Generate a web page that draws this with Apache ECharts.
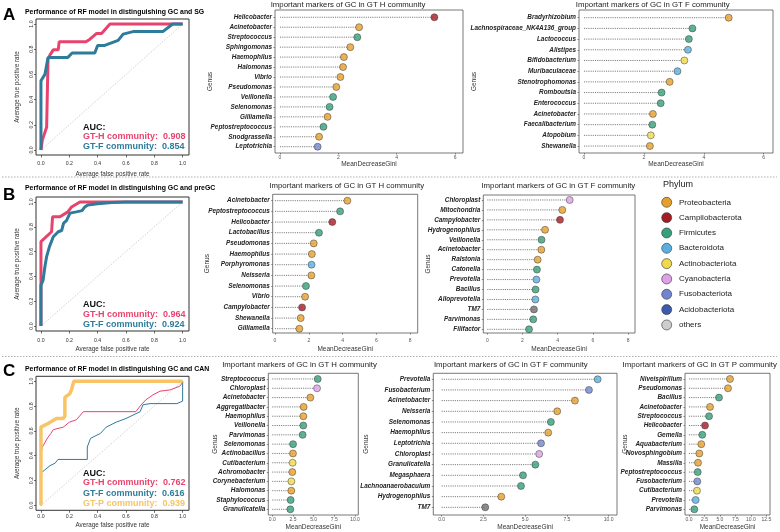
<!DOCTYPE html>
<html><head><meta charset="utf-8">
<script src="https://cdn.jsdelivr.net/npm/echarts@6/dist/echarts.min.js"></script>
<style>html,body{margin:0;padding:0;background:#fff}#c{width:780px;height:532px}</style>
</head><body><div id="c"></div>
<script>
// ================= DATA =================
const phylumNames  = ['Proteobacteria','Campilobacterota','Firmicutes','Bacteroidota','Actinobacteriota','Cyanobacteria','Fusobacteriota','Acidobacteriota','others'];
const phylumColors = ['#E69F2C','#A61C24','#35A07B','#5BAEE0','#F0DA4C','#DDA2E6','#7286D0','#3D59B0','#CDCDCD'];
const extraPhylum = 'Patescibacteria', extraColor = '#6E6E6E';

const rocTicks = [0, 0.2, 0.4, 0.6, 0.8, 1.0];
const diagonal = [[0, 0], [1, 1]];
const communities = ['GT-H community:', 'GT-F community:', 'GT-P community:'];

// ROC curves [FPR, TPR]
const rocA_H = [[0,0],[0.01,0.08],[0.04,0.18],[0.05,0.72],[0.064,0.755],[0.087,0.795],[0.122,0.795],[0.129,0.86],[0.318,0.86],[0.346,0.88],[0.393,0.925],[0.428,0.925],[0.487,1],[1,1]];
const rocA_F = [[0,0],[0,0.55],[0.028,0.6],[0.05,0.735],[0.19,0.735],[0.22,0.77],[0.38,0.77],[0.40,0.83],[0.45,0.83],[0.545,0.87],[0.58,0.92],[0.65,0.94],[0.86,0.94],[0.93,1],[1,1]];
const aucA = [0.908, 0.854];
const rocB_H = [[0,0],[0,0.68],[0.075,0.76],[0.082,0.88],[0.134,0.88],[0.19,0.92],[0.216,0.96],[0.275,1],[1,1]];
const rocB_F = [[0,0],[0,0.33],[0.015,0.37],[0.028,0.48],[0.04,0.56],[0.06,0.64],[0.087,0.72],[0.122,0.76],[0.146,0.77],[0.16,0.83],[0.18,0.85],[0.205,0.91],[0.25,0.92],[0.29,0.93],[0.31,0.96],[0.33,0.975],[0.4,0.985],[0.5,0.995],[0.6,1],[1,1]];
const aucB = [0.964, 0.924];
const rocC_H = [[0,0],[0,0.42],[0.01,0.47],[0.05,0.55],[0.07,0.58],[0.087,0.61],[0.157,0.63],[0.2,0.67],[0.25,0.69],[0.3,0.755],[0.67,0.755],[0.7,0.8],[0.74,0.85],[0.79,0.89],[0.84,0.92],[0.91,0.93],[0.98,0.96],[1,0.99],[1,1]];
const rocC_F = [[0,0],[0,0.26],[0.064,0.32],[0.1,0.34],[0.12,0.37],[0.327,0.37],[0.327,0.47],[0.35,0.54],[0.42,0.58],[0.46,0.63],[0.53,0.67],[0.6,0.7],[0.7,0.755],[0.72,0.81],[0.77,0.82],[0.96,0.82],[1,0.84],[1,1]];
const rocC_P = [[0,0],[0,0.63],[0.05,0.66],[0.11,0.70],[0.157,0.70],[0.169,0.72],[0.169,0.87],[0.204,0.90],[0.215,0.93],[0.232,1],[1,1]];
const aucC = [0.762, 0.616, 0.939];

// Marker genera (MeanDecreaseGini)
const aH_genus = ['Helicobacter','Acinetobacter','Streptococcus','Sphingomonas','Haemophilus','Halomonas','Vibrio','Pseudomonas','Veillonella','Selenomonas','Gilliamella','Peptostreptococcus','Snodgrassella','Leptotrichia'];
const aH_gini  = [5.29,2.71,2.65,2.41,2.19,2.16,2.07,1.93,1.82,1.70,1.63,1.49,1.34,1.29];
const aH_phyl  = ['Campilobacterota','Proteobacteria','Firmicutes','Proteobacteria','Proteobacteria','Proteobacteria','Proteobacteria','Proteobacteria','Firmicutes','Firmicutes','Proteobacteria','Firmicutes','Proteobacteria','Fusobacteriota'];

const aF_genus = ['Bradyrhizobium','Lachnospiraceae_NK4A136_group','Lactococcus','Alistipes','Bifidobacterium','Muribaculaceae','Stenotrophomonas','Romboutsia','Enterococcus','Acinetobacter','Faecalibacterium','Atopobium','Shewanella'];
const aF_gini  = [4.83,3.62,3.50,3.47,3.35,3.12,2.86,2.59,2.56,2.30,2.28,2.23,2.20];
const aF_phyl  = ['Proteobacteria','Firmicutes','Firmicutes','Bacteroidota','Actinobacteriota','Bacteroidota','Proteobacteria','Firmicutes','Firmicutes','Proteobacteria','Firmicutes','Actinobacteriota','Proteobacteria'];

const bH_genus = ['Acinetobacter','Peptostreptococcus','Helicobacter','Lactobacillus','Pseudomonas','Haemophilus','Porphyromonas','Neisseria','Selenomonas','Vibrio','Campylobacter','Shewanella','Gilliamella'];
const bH_gini  = [4.28,3.85,3.39,2.60,2.29,2.18,2.16,2.15,1.83,1.78,1.60,1.52,1.44];
const bH_phyl  = ['Proteobacteria','Firmicutes','Campilobacterota','Firmicutes','Proteobacteria','Proteobacteria','Bacteroidota','Proteobacteria','Firmicutes','Proteobacteria','Campilobacterota','Proteobacteria','Proteobacteria'];

const bF_genus = ['Chloroplast','Mitochondria','Campylobacter','Hydrogenophilus','Veillonella','Acinetobacter','Ralstonia','Catonella','Prevotella','Bacillus','Alloprevotella','TM7','Parvimonas','Filifactor'];
const bF_gini  = [4.68,4.26,4.13,3.28,3.08,3.07,2.86,2.82,2.79,2.74,2.73,2.65,2.61,2.37];
const bF_phyl  = ['Cyanobacteria','Proteobacteria','Campilobacterota','Proteobacteria','Firmicutes','Proteobacteria','Proteobacteria','Firmicutes','Bacteroidota','Firmicutes','Bacteroidota','Patescibacteria','Firmicutes','Firmicutes'];

const cH_genus = ['Streptococcus','Chloroplast','Acinetobacter','Aggregatibacter','Haemophilus','Veillonella','Parvimonas','Selenomonas','Actinobacillus','Cutibacterium','Achromobacter','Corynebacterium','Halomonas','Staphylococcus','Granulicatella'];
const cH_gini  = [5.49,5.41,4.60,3.79,3.76,3.75,3.67,2.51,2.50,2.46,2.42,2.31,2.30,2.22,2.18];
const cH_phyl  = ['Firmicutes','Cyanobacteria','Proteobacteria','Proteobacteria','Proteobacteria','Firmicutes','Firmicutes','Firmicutes','Proteobacteria','Actinobacteriota','Proteobacteria','Actinobacteriota','Proteobacteria','Firmicutes','Firmicutes'];

const cF_genus = ['Prevotella','Fusobacterium','Acinetobacter','Neisseria','Selenomonas','Haemophilus','Leptotrichia','Chloroplast','Granulicatella','Megasphaera','Lachnoanaerobaculum','Hydrogenophilus','TM7'];
const cF_gini  = [9.34,8.82,7.98,6.92,6.54,6.38,5.95,5.84,5.61,4.87,4.75,3.57,2.61];
const cF_phyl  = ['Bacteroidota','Fusobacteriota','Proteobacteria','Proteobacteria','Firmicutes','Proteobacteria','Fusobacteriota','Cyanobacteria','Firmicutes','Firmicutes','Firmicutes','Proteobacteria','Patescibacteria'];

const cP_genus = ['Niveispirillum','Pseudomonas','Bacillus','Acinetobacter','Streptococcus','Helicobacter','Gemella','Aquabacterium','Novosphingobium','Massilia','Peptostreptococcus','Fusobacterium','Cutibacterium','Prevotella','Parvimonas'];
const cP_gini  = [6.63,6.31,4.85,3.40,3.24,2.59,2.15,1.99,1.67,1.46,1.41,1.34,1.29,1.08,0.86];
const cP_phyl  = ['Proteobacteria','Proteobacteria','Firmicutes','Proteobacteria','Firmicutes','Campilobacterota','Firmicutes','Proteobacteria','Proteobacteria','Proteobacteria','Firmicutes','Fusobacteriota','Actinobacteriota','Bacteroidota','Firmicutes'];

const ticksAB6 = [0, 2, 4, 6];
const ticksB8 = [0, 2, 4, 6, 8];
const ticksC10 = [0, 2.5, 5, 7.5, 10];
const ticksC12 = [0, 2.5, 5, 7.5, 10, 12.5];

// ================= BUILD =================
const FF = '"Liberation Sans", Arial, Helvetica, sans-serif';
const colorOf = p => p === extraPhylum ? extraColor : phylumColors[phylumNames.indexOf(p)];
const grids = [], xAxes = [], yAxes = [], series = [], graphics = [];

function txt(x, y, text, o) {
  const st = Object.assign({text: text, fill: '#111', fontSize: 8, fontFamily: FF,
    textAlign: 'left', textVerticalAlign: 'middle'}, o || {});
  st.align = st.textAlign; st.verticalAlign = st.textVerticalAlign;
  return {type: 'text', x: x, y: y, silent: true, style: st};
}

const rocColors = ['#E8436E', '#2E7B9C', '#F8C466'];
const noLine = {show: false, onZero: false};

function addRoc(L, curves, widths, aucs) {
  const gi = grids.length;
  grids.push({left: L.l, top: L.t, width: L.r - L.l, height: L.b - L.t, show: true,
    borderColor: '#333', borderWidth: 1, backgroundColor: 'rgba(0,0,0,0)', outerBoundsMode: 'none', containLabel: false});
  xAxes.push({gridIndex: gi, type: 'value', min: -0.035, max: 1.045,
    axisLine: noLine, splitLine: {show: false}, nameMoveOverlap: false,
    axisTick: {show: true, length: 2.5, customValues: rocTicks, lineStyle: {color: '#333', width: 0.7}},
    axisLabel: {customValues: rocTicks, formatter: v => v.toFixed(1), fontSize: 5.2, color: '#333', margin: L.xm, fontFamily: FF},
    name: 'Average false positive rate', nameLocation: 'middle', nameGap: L.xng,
    nameTextStyle: {fontSize: 6.3, color: '#333', fontFamily: FF}});
  yAxes.push({gridIndex: gi, type: 'value', min: -0.04, max: 1.04,
    axisLine: noLine, splitLine: {show: false}, nameMoveOverlap: false,
    axisTick: {show: true, length: 2, customValues: rocTicks, lineStyle: {color: '#333', width: 0.7}},
    axisLabel: {customValues: rocTicks, formatter: v => v.toFixed(1), fontSize: 5.2, color: '#333', margin: 2.4, rotate: 90, fontFamily: FF},
    name: 'Average true positive rate', nameLocation: 'middle', nameGap: 16,
    nameTextStyle: {fontSize: 6.3, color: '#333', fontFamily: FF}});
  series.push({type: 'line', xAxisIndex: gi, yAxisIndex: gi, data: diagonal, symbol: 'none', silent: true,
    lineStyle: {color: '#bdbdbd', width: 0.7, type: [1.5, 1.5]}, z: 1});
  curves.forEach((c, k) => series.push({type: 'line', xAxisIndex: gi, yAxisIndex: gi, data: c, symbol: 'none', silent: true,
    lineStyle: {color: rocColors[k], width: widths[k]}, z: 2 + k}));
  graphics.push(txt(L.ax, L.ay[0], 'AUC:', {fontSize: 9, fontWeight: 'bold', fill: '#111'}));
  aucs.forEach((a, k) => graphics.push(txt(L.ax, L.ay[k + 1], communities[k] + '  ' + a.toFixed(3),
    {fontSize: 9, fontWeight: 'bold', fill: rocColors[k]})));
}

function addDot(L, names, vals, phyl, ticks, fmt, title) {
  const gi = grids.length;
  const idx = names.map((_, i) => i);
  grids.push({left: L.l, top: L.t, width: L.r - L.l, height: L.b - L.t, show: true,
    borderColor: '#555', borderWidth: 0.8, backgroundColor: 'rgba(0,0,0,0)', outerBoundsMode: 'none', containLabel: false});
  xAxes.push({gridIndex: gi, type: 'value', min: L.xmin, max: L.xmax,
    axisLine: noLine, splitLine: {show: false}, nameMoveOverlap: false,
    axisTick: {show: true, length: 1.5, customValues: ticks, lineStyle: {color: '#444', width: 0.6}},
    axisLabel: {customValues: ticks, formatter: fmt, fontSize: 5, color: '#555', margin: L.xm, fontFamily: FF},
    name: 'MeanDecreaseGini', nameLocation: 'middle', nameGap: L.xng,
    nameTextStyle: {fontSize: 6.5, color: '#333', fontFamily: FF}});
  yAxes.push({gridIndex: gi, type: 'value', inverse: true, min: L.ymin, max: L.ymax,
    axisLine: noLine, splitLine: {show: false}, nameMoveOverlap: false,
    axisTick: {show: true, length: 1.5, customValues: idx, lineStyle: {color: '#444', width: 0.6}},
    axisLabel: {customValues: idx, formatter: v => names[Math.round(v)], fontSize: 6.4, fontWeight: 'bold',
      fontStyle: 'italic', color: '#222', margin: 3, fontFamily: FF},
    name: 'Genus', nameLocation: 'middle', nameGap: L.yng,
    nameTextStyle: {fontSize: 6.5, color: '#333', fontFamily: FF}});
  series.push({type: 'custom', coordinateSystem: 'cartesian2d', xAxisIndex: gi, yAxisIndex: gi, silent: true, z: 2,
    data: vals.map((v, i) => [v, i]),
    renderItem: (params, api) => {
      const y = api.value(1);
      const p0 = api.coord([0, y]), p1 = api.coord([api.value(0), y]);
      return {type: 'line', shape: {x1: p0[0], y1: p0[1], x2: p1[0], y2: p1[1]},
        style: {stroke: '#555', lineWidth: 0.8, lineDash: [1.1, 1.1], fill: null}};
    }});
  series.push({type: 'scatter', xAxisIndex: gi, yAxisIndex: gi, symbolSize: 7, silent: true, z: 3,
    itemStyle: {borderColor: '#333', borderWidth: 0.6},
    data: vals.map((v, i) => ({value: [v, i], itemStyle: {color: colorOf(phyl[i])}}))});
  graphics.push(txt(L.tx, L.ty, title, {fontSize: 7.8, fill: '#222', textAlign: 'center'}));
}

const int0 = v => String(v);
const fix1 = v => v.toFixed(1);
const titleH = 'Important markers of GC in GT H community';
const titleF = 'Important markers of GC in GT F community';
const titleP = 'Important markers of GC in GT P community';

// Panel A
addRoc({l: 36, r: 189, t: 19, b: 155, xm: 6.2, xng: 15.8, ax: 83, ay: [127.7, 137, 146.7]}, [rocA_H, rocA_F], [3, 3], aucA);
addDot({l: 275, r: 463, t: 10, b: 153, xmin: -0.17, xmax: 6.27, ymin: -0.73, ymax: 13.63, xm: 2.3, xng: 7.8, yng: 61.5, tx: 348, ty: 4.5},
  aH_genus, aH_gini, aH_phyl, ticksAB6, int0, titleH);
addDot({l: 579, r: 773, t: 10, b: 153, xmin: -0.167, xmax: 6.31, ymin: -0.72, ymax: 12.65, xm: 2.3, xng: 7.8, yng: 101, tx: 652.7, ty: 4.5},
  aF_genus, aF_gini, aF_phyl, ticksAB6, int0, titleF);

// Panel B
addRoc({l: 36, r: 189, t: 197, b: 331, xm: 7.5, xng: 15.3, ax: 83, ay: [305, 315, 324.3]}, [rocB_H, rocB_F], [3, 3], aucB);
addDot({l: 272.7, r: 417.7, t: 194.3, b: 333, xmin: -0.136, xmax: 8.44, ymin: -0.6, ymax: 12.4, xm: 5, xng: 12.5, yng: 61.5, tx: 346.7, ty: 186},
  bH_genus, bH_gini, bH_phyl, ticksB8, int0, titleH);
addDot({l: 483.3, r: 635, t: 195, b: 333, xmin: -0.227, xmax: 8.39, ymin: -0.5, ymax: 13.37, xm: 5, xng: 12.5, yng: 51.7, tx: 558.3, ty: 186},
  bF_genus, bF_gini, bF_phyl, ticksB8, int0, titleF);

// Panel C
addRoc({l: 36, r: 189, t: 376.3, b: 510.3, xm: 3.5, xng: 12.3, ax: 83, ay: [473.3, 482.8, 493.2, 503.2]}, [rocC_H, rocC_F, rocC_P], [1, 1, 3.5], aucC);
addDot({l: 268.3, r: 358.3, t: 373.3, b: 515, xmin: -0.48, xmax: 10.4, ymin: -0.61, ymax: 14.61, xm: 2.3, xng: 9, yng: 50, tx: 299.5, ty: 365},
  cH_genus, cH_gini, cH_phyl, ticksC10, fix1, titleH);
addDot({l: 433.3, r: 617, t: 373.3, b: 515, xmin: -0.5, xmax: 10.5, ymin: -0.56, ymax: 12.72, xm: 2.3, xng: 9, yng: 63.4, tx: 510.8, ty: 365},
  cF_genus, cF_gini, cF_phyl, ticksC10, fix1, titleF);
addDot({l: 685, r: 770, t: 373.3, b: 515, xmin: -0.647, xmax: 13.1, ymin: -0.61, ymax: 14.61, xm: 2.3, xng: 9, yng: 56, tx: 699.7, ty: 365},
  cP_genus, cP_gini, cP_phyl, ticksC12, fix1, titleP);

// Panel letters and titles
graphics.push(txt(3, 15, 'A', {fontSize: 17, fontWeight: 'bold', fill: '#000'}));
graphics.push(txt(3, 195, 'B', {fontSize: 17, fontWeight: 'bold', fill: '#000'}));
graphics.push(txt(3, 371, 'C', {fontSize: 17, fontWeight: 'bold', fill: '#000'}));
graphics.push(txt(25, 12, 'Performance of RF model in distinguishing GC and SG', {fontSize: 6.9, fontWeight: 'bold', fill: '#000'}));
graphics.push(txt(25, 188.3, 'Performance of RF model in distinguishing GC and preGC', {fontSize: 6.9, fontWeight: 'bold', fill: '#000'}));
graphics.push(txt(25, 369.3, 'Performance of RF model in distinguishing GC and CAN', {fontSize: 6.9, fontWeight: 'bold', fill: '#000'}));

// separators
[177, 356.5].forEach(y => graphics.push({type: 'line', silent: true, shape: {x1: 2, y1: y, x2: 777, y2: y},
  style: {stroke: '#9a9a9a', lineWidth: 0.8, lineDash: [1.5, 1.5]}}));

// Legend
graphics.push(txt(663, 185, 'Phylum', {fontSize: 9, fill: '#222'}));
phylumNames.forEach((p, i) => {
  const cy = 202.3 + i * 15.33;
  graphics.push({type: 'circle', silent: true, shape: {cx: 666.7, cy: cy, r: 5},
    style: {fill: phylumColors[i], stroke: '#333', lineWidth: 0.6}});
  graphics.push(txt(679, cy, p, {fontSize: 8, fill: '#222'}));
});

const chart = echarts.init(document.getElementById('c'), null, {renderer: 'canvas'});
chart.setOption({
  backgroundColor: '#fff', animation: false,
  grid: grids, xAxis: xAxes, yAxis: yAxes, series: series,
  graphic: {elements: graphics}
});
</script></body></html>
